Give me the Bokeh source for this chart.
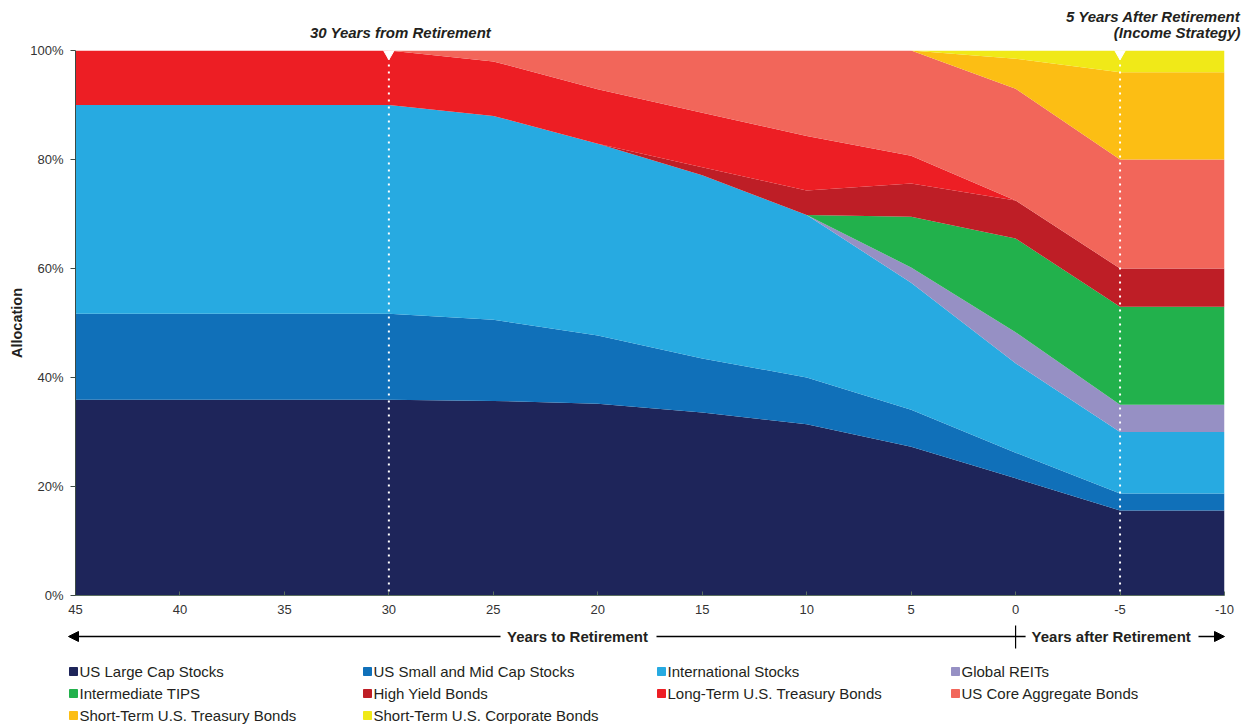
from bokeh.plotting import figure
from bokeh.layouts import column
from bokeh.models import (ColumnDataSource, Range1d, FixedTicker, PrintfTickFormatter,
                          Span, Arrow, NormalHead)
from bokeh.core.properties import value
from bokeh.embed import file_html
from bokeh.resources import INLINE

# ---------------- data ----------------
years = [45, 40, 35, 30, 25, 20, 15, 10, 5, 0, -5, -10]
us_large_cap = [35.9, 35.9, 35.9, 35.9, 35.7, 35.2, 33.6, 31.4, 27.3, 21.5, 15.6, 15.6]
us_small_mid = [15.8, 15.8, 15.8, 15.8, 14.9, 12.5, 9.9, 8.6, 6.8, 4.7, 3.1, 3.1]
international = [38.3, 38.3, 38.3, 38.3, 37.4, 35.2, 33.6, 29.8, 23.3, 16.4, 11.3, 11.3]
global_reits = [0, 0, 0, 0, 0, 0, 0, 0, 2.8, 5.7, 5.0, 5.0]
inter_tips = [0, 0, 0, 0, 0, 0, 0, 0, 9.3, 17.2, 18.0, 18.0]
high_yield = [0, 0, 0, 0, 0, 0, 1.5, 4.5, 6.1, 7.0, 7.0, 7.0]
lt_treasury = [10, 10, 10, 10, 10, 10, 10, 10, 5.1, 0, 0, 0]
core_agg = [0, 0, 0, 0, 2.0, 7.1, 11.4, 15.7, 19.3, 20.5, 20.0, 20.0]
st_treasury = [0, 0, 0, 0, 0, 0, 0, 0, 0, 5.5, 16.0, 16.0]
st_corporate = [0, 0, 0, 0, 0, 0, 0, 0, 0, 1.5, 4.0, 4.0]

series_names = ["US Large Cap Stocks", "US Small and Mid Cap Stocks", "International Stocks",
                "Global REITs", "Intermediate TIPS", "High Yield Bonds",
                "Long-Term U.S. Treasury Bonds", "US Core Aggregate Bonds",
                "Short-Term U.S. Treasury Bonds", "Short-Term U.S. Corporate Bonds"]
series_values = [us_large_cap, us_small_mid, international, global_reits, inter_tips,
                 high_yield, lt_treasury, core_agg, st_treasury, st_corporate]
colors = ["#1E255A", "#1070B9", "#27AAE1", "#9690C4", "#22B14C",
          "#BE1E26", "#ED1E24", "#F2665A", "#FCBE14", "#F0E918"]

x_ticks = [45, 40, 35, 30, 25, 20, 15, 10, 5, 0, -5, -10]
x_tick_labels = ["45", "40", "35", "30", "25", "20", "15", "10", "5", "0", "-5", "-10"]
y_ticks = [0, 20, 40, 60, 80, 100]
marker_years = [30, -5]
retirement_year = 0

# ---------------- layout constants (page pixels) ----------------
W, H = 1248, 724
FL, FR, FT, FB = 75, 1224, 50, 595
TOP_H = 42
MAIN_BOTTOM = 622
X0, X1 = 45, -10
FONT = "Liberation Sans"
TXT = "#231F20"


def year_px(yr):
    return FL + (X0 - yr) * (FR - FL) / float(X0 - X1)


def strip(height, y_top):
    f = figure(width=W, height=height, x_range=Range1d(0, W),
               y_range=Range1d(y_top + height, y_top), output_backend="svg",
               toolbar_location=None, min_border=0, frame_align=False)
    f.axis.visible = False
    f.grid.visible = False
    f.outline_line_color = None
    return f


# ---------------- top strip ----------------
top = strip(TOP_H, 0)
top.text(x=[400], y=[32], text=["30 Years from Retirement"], text_font=value(FONT),
         text_font_size="15px", text_font_style="bold italic", text_color=TXT,
         text_align="center", text_baseline="middle")
top.text(x=[1240, 1240], y=[16, 32], text=["5 Years After Retirement", "(Income Strategy)"],
         text_font=value(FONT), text_font_size="15px", text_font_style="bold italic",
         text_color=TXT, text_align="right", text_baseline="middle")

# ---------------- main chart ----------------
data = {"year": years}
keys = []
for i, v in enumerate(series_values):
    k = "s%d" % i
    keys.append(k)
    data[k] = v
source = ColumnDataSource(data)

p = figure(width=W, height=MAIN_BOTTOM - TOP_H, x_range=Range1d(X0, X1), y_range=Range1d(0, 100),
           output_backend="svg", toolbar_location=None,
           min_border_left=FL, min_border_right=W - FR, min_border_top=FT - TOP_H,
           min_border_bottom=MAIN_BOTTOM - FB)
p.outline_line_color = None
p.xgrid.grid_line_color = None
p.ygrid.grid_line_color = None

p.varea_stack(stackers=keys, x="year", color=colors, source=source)

p.yaxis.ticker = FixedTicker(ticks=y_ticks)
p.yaxis.formatter = PrintfTickFormatter(format="%d%%")
p.yaxis.axis_label = "Allocation"
p.yaxis.axis_label_text_font = FONT
p.yaxis.axis_label_text_font_style = "bold"
p.yaxis.axis_label_text_font_size = "14.5px"
p.yaxis.axis_label_text_color = TXT
p.yaxis.axis_label_standoff = 2
p.yaxis.major_label_text_font = FONT
p.yaxis.major_label_text_font_size = "13px"
p.yaxis.major_label_text_color = "#333333"
p.yaxis.major_tick_in = 0
p.yaxis.major_tick_out = 5
p.yaxis.minor_tick_line_color = None
p.yaxis.axis_line_color = "#3C4A44"
p.yaxis.major_tick_line_color = "#3C4A44"
p.yaxis.major_label_standoff = 7

p.xaxis.ticker = FixedTicker(ticks=x_ticks)
p.xaxis.major_label_overrides = {t: s for t, s in zip(x_ticks, x_tick_labels)}
p.xaxis.major_label_text_font = FONT
p.xaxis.major_label_text_font_size = "13px"
p.xaxis.major_label_text_color = "#333333"
p.xaxis.major_tick_in = 4
p.xaxis.major_tick_out = 0
p.xaxis.minor_tick_line_color = None
p.xaxis.axis_line_color = "#5A6E60"
p.xaxis.major_tick_line_color = "#5A6E60"
p.xaxis.major_label_standoff = 9

for yr in marker_years:
    p.add_layout(Span(location=yr, dimension="height", line_color="white",
                      line_width=2, line_dash="2 5"))
p.scatter(x=marker_years, y=[100] * len(marker_years), marker="inverted_triangle",
          size=16, color="white")

# ---------------- bottom strip: arrows + legend ----------------
bot = strip(H - MAIN_BOTTOM, MAIN_BOTTOM)

AY = 636
ret_px = year_px(retirement_year)
head = dict(size=10, fill_color="black", line_color="black")
bot.add_layout(Arrow(x_start=500, y_start=AY, x_end=year_px(X0) - 7, y_end=AY,
                     end=NormalHead(**head), line_width=1.5, line_color="black"))
bot.add_layout(Arrow(x_start=656, y_start=AY, x_end=ret_px + 10, y_end=AY, start=None,
                     end=None, line_width=1.5, line_color="black"))
bot.add_layout(Arrow(x_start=ret_px, y_start=625, x_end=ret_px, y_end=648, start=None,
                     end=None, line_width=1.2, line_color="black"))
bot.add_layout(Arrow(x_start=1198, y_start=AY, x_end=year_px(X1), y_end=AY,
                     end=NormalHead(**head), line_width=1.5, line_color="black"))
bot.text(x=[577], y=[AY], text=["Years to Retirement"], text_font=value(FONT),
         text_font_size="15px", text_font_style="bold", text_color=TXT,
         text_align="center", text_baseline="middle")
bot.text(x=[ret_px + 16], y=[AY], text=["Years after Retirement"], text_font=value(FONT),
         text_font_size="15px", text_font_style="bold", text_color=TXT,
         text_align="left", text_baseline="middle")

col_px = [73, 367, 661, 955]
row_py = [671, 693, 715]
lx, ly, tx = [], [], []
for i in range(len(series_names)):
    r, c = divmod(i, 4)
    lx.append(col_px[c])
    ly.append(row_py[r])
    tx.append(col_px[c] + 6)
bot.scatter(x=lx, y=ly, marker="square", size=8, color=colors)
bot.text(x=tx, y=ly, text=series_names, text_font=value(FONT), text_font_size="15px",
         text_color=TXT, text_align="left", text_baseline="middle")

layout = column(top, p, bot, spacing=0)
open("out.html", "w").write(file_html(layout, INLINE))
